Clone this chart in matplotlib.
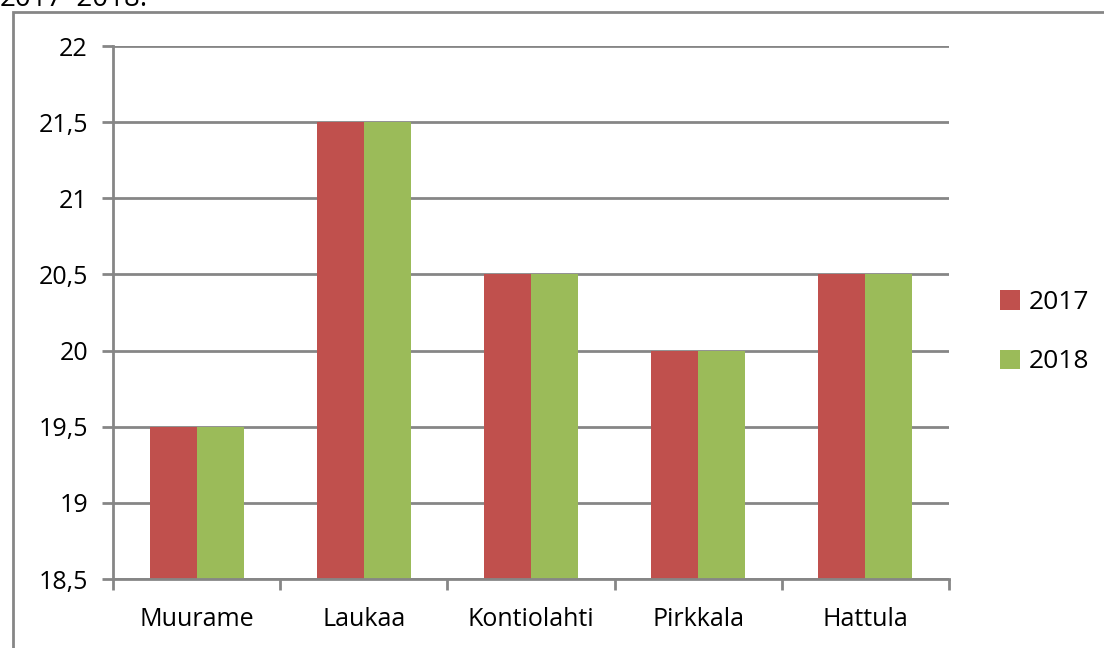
import matplotlib
matplotlib.use("Agg")
import matplotlib.pyplot as plt
import matplotlib.ticker as mticker
from matplotlib.patches import Rectangle
import numpy as np

# ── data ─────────────────────────────────────────────
municipalities = ["Muurame", "Laukaa", "Kontiolahti", "Pirkkala", "Hattula"]
values_2017 = [19.5, 21.5, 20.5, 20.0, 20.5]
values_2018 = [19.5, 21.5, 20.5, 20.0, 20.5]
series_labels = ["2017", "2018"]
y_ticks = [18.5, 19, 19.5, 20, 20.5, 21, 21.5, 22]

RED = "#C0504D"
GREEN = "#9BBB59"
GRID = "#868686"

plt.rcParams["font.family"] = ["Open Sans", "DejaVu Sans"]

fig = plt.figure(figsize=(11.04, 6.48), dpi=100)
ax = fig.add_axes([113 / 1104, 1 - 579 / 648, (949 - 113) / 1104, (579 - 46) / 648])

x = np.arange(len(municipalities))
w = 0.281
base = y_ticks[0]
ax.bar(x - w / 2, np.array(values_2017) - base, w, bottom=base, color=RED,
       label=series_labels[0], zorder=3)
ax.bar(x + w / 2, np.array(values_2018) - base, w, bottom=base, color=GREEN,
       label=series_labels[1], zorder=3)

ax.set_xlim(-0.5, len(municipalities) - 0.5)
ax.set_ylim(y_ticks[0], y_ticks[-1])
ax.set_yticks(y_ticks)
ax.yaxis.set_major_formatter(mticker.FuncFormatter(
    lambda v, _: (f"{v:g}").replace(".", ",")))
ax.set_xticks(x)
ax.set_xticklabels(municipalities, fontsize=18)
ax.set_xticks(np.arange(-0.5, len(municipalities)), minor=True)
ax.tick_params(axis="x", which="major", length=0, pad=20)
ax.tick_params(axis="x", which="minor", length=8, width=2, color=GRID)
ax.tick_params(axis="y", length=8, width=2, color=GRID, labelsize=18, pad=10)

ax.grid(axis="y", color=GRID, linewidth=2, zorder=0)
for s in ["top", "right"]:
    ax.spines[s].set_visible(False)
for s in ["left", "bottom"]:
    ax.spines[s].set_color(GRID)
    ax.spines[s].set_linewidth(2)
    ax.spines[s].set_zorder(4)

ax.legend(loc="center left", bbox_to_anchor=(1.061, 0.463), frameon=False,
          fontsize=19, handlelength=0.75, handleheight=0.75, handletextpad=0.35,
          labelspacing=1.3, borderaxespad=0, borderpad=0)

# outer chart frame (cut off at right and bottom)
fig.patches.append(Rectangle((13 / 1104, -0.1), 1.2, 1.1 - 12 / 648,
                             transform=fig.transFigure, fill=False,
                             edgecolor=GRID, linewidth=2))
# caption text above the frame, clipped by the top edge as in the source
fig.text(0.0, 1 - 6 / 648, "2017–2018.", fontsize=20, va="baseline", ha="left")

fig.savefig("out.png", dpi=100)
